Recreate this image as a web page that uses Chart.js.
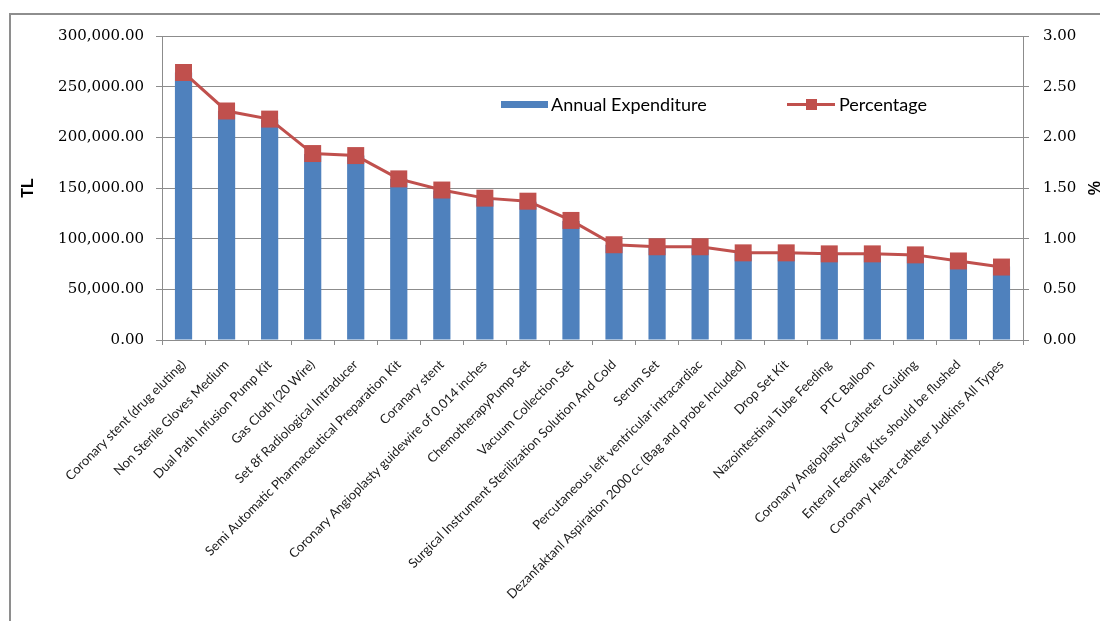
<!DOCTYPE html>
<html>
<head>
<meta charset="utf-8">
<script src="https://cdn.jsdelivr.net/npm/chart.js@4.4.1/dist/chart.umd.min.js"></script>
<style>
  html, body { margin: 0; padding: 0; background: #fff; }
  #wrap { position: relative; width: 1100px; height: 621px; overflow: hidden; }
  #frame { position: absolute; left: 9px; top: 13px; width: 1200px; height: 700px;
           border-left: 2px solid #8e8e8e; border-top: 2px solid #8e8e8e; }
  canvas { position: absolute; left: 0; top: 0; }
  .legend-item { position: absolute; font-family: Lato, sans-serif; font-size: 18px; color: #000;
                 line-height: 20px; white-space: nowrap; }
  .swatch-bar { position: absolute; background: #4F81BD; }
  .swatch-line { position: absolute; background: #C0504D; }
  .swatch-mark { position: absolute; background: #C0504D; }
</style>
</head>
<body>
<div id="wrap">
  <div id="frame"></div>
  <canvas id="chart" width="1100" height="621"></canvas>
  <div class="swatch-bar" style="left:501px;top:101px;width:47px;height:7px"></div>
  <div class="legend-item" style="left:551px;top:94px">Annual Expenditure</div>
  <div class="swatch-line" style="left:787px;top:103px;width:48px;height:3px"></div>
  <div class="swatch-mark" style="left:806px;top:99px;width:11px;height:11px"></div>
  <div class="legend-item" style="left:839px;top:94px">Percentage</div>
</div>
<script>
// --- data ---
const ITEMS = [
  "Coronary stent (drug eluting)",
  "Non Sterile Gloves Medium",
  "Dual Path Infusion Pump Kit",
  "Gas Cloth (20 Wire)",
  "Set 8f Radiological Intraducer",
  "Semi Automatic Pharmaceutical Preparation Kit",
  "Coranary stent",
  "Coronary Angioplasty guidewire of 0.014 inches",
  "ChemotherapyPump Set",
  "Vacuum Collection Set",
  "Surgical Instrument Sterilization Solution And Cold",
  "Serum Set",
  "Percutaneous left ventricular intracardiac",
  "Dezanfaktanl Aspiration 2000 cc (Bag and probe Included)",
  "Drop Set Kit",
  "Nazointestinal Tube Feeding",
  "PTC Balloon",
  "Coronary Angioplasty Catheter Guiding",
  "Enteral Feeding Kits should be flushed",
  "Coronary Heart catheter Judkins All Types"
];
const EXPENDITURE = [264000, 226000, 217500, 183500, 182000, 159000, 147500, 140000, 136500, 117500,
                     94000, 92500, 92000, 86500, 85500, 85000, 85000, 84000, 78000, 72500];
const PERCENTAGE = [2.64, 2.26, 2.18, 1.84, 1.82, 1.59, 1.48, 1.40, 1.37, 1.18,
                    0.94, 0.92, 0.92, 0.86, 0.86, 0.85, 0.85, 0.84, 0.78, 0.72];
const TL_MAX = 300000, TL_STEP = 50000;
const PCT_MAX = 3, PCT_STEP = 0.5;

const GRID = "#8c8c8c";
const tickFont = { family: "DejaVu Serif", size: 15 };

new Chart(document.getElementById("chart"), {
  type: "bar",
  data: {
    labels: ITEMS,
    datasets: [
      {
        type: "line",
        label: "Percentage",
        data: PERCENTAGE,
        yAxisID: "y1",
        order: 0,
        borderColor: "#C0504D",
        borderWidth: 3,
        tension: 0,
        pointStyle: "rect",
        pointRadius: 12,
        pointBackgroundColor: "#C0504D",
        pointBorderColor: "#C0504D",
        pointBorderWidth: 0
      },
      {
        label: "Annual Expenditure",
        data: EXPENDITURE,
        yAxisID: "y",
        order: 1,
        backgroundColor: "#4F81BD",
        barPercentage: 0.4,
        categoryPercentage: 1
      }
    ]
  },
  options: {
    responsive: false,
    animation: false,
    devicePixelRatio: 1,
    layout: { padding: { top: 36, left: 0, right: 0, bottom: 0 } },
    plugins: { legend: { display: false }, tooltip: { enabled: false } },
    scales: {
      x: {
        grid: { drawOnChartArea: false, drawTicks: true, tickLength: 5, color: GRID, offset: true },
        border: { color: GRID },
        ticks: {
          autoSkip: false, minRotation: 45, maxRotation: 45, padding: 12,
          font: { family: "Lato", size: 13 }, color: "#1a1a1a"
        },
        afterFit: (s) => { s.height = 281; }
      },
      y: {
        position: "left",
        min: 0, max: TL_MAX,
        ticks: {
          stepSize: TL_STEP, padding: 12, font: tickFont, color: "#000",
          callback: (v) => v.toLocaleString("en-US", { minimumFractionDigits: 2, maximumFractionDigits: 2 })
        },
        grid: { color: GRID, tickLength: 6 },
        border: { color: GRID },
        title: {
          display: true, text: "TL", color: "#000",
          font: { family: "Liberation Sans", size: 16, weight: "bold", lineHeight: 1 },
          padding: { top: 21, bottom: 0 }
        },
        afterFit: (s) => { s.width = 162; }
      },
      y1: {
        position: "right",
        min: 0, max: PCT_MAX,
        ticks: {
          stepSize: PCT_STEP, padding: 14, font: tickFont, color: "#000",
          callback: (v) => v.toFixed(2)
        },
        grid: { drawOnChartArea: false, color: GRID, tickLength: 6 },
        border: { color: GRID },
        title: {
          display: true, text: "%", color: "#000",
          font: { family: "Liberation Sans", size: 16, weight: "bold", lineHeight: 1 },
          padding: { top: 0, bottom: 2 }
        },
        afterFit: (s) => { s.width = 77; }
      }
    }
  }
});
</script>
</body>
</html>
